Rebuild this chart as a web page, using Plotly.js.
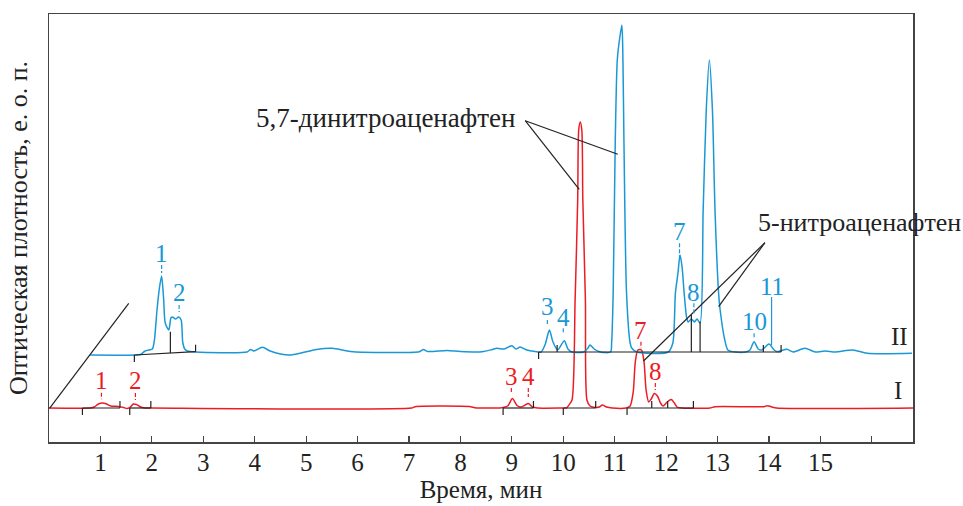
<!DOCTYPE html>
<html><head><meta charset="utf-8">
<script src="https://cdn.plot.ly/plotly-3.0.1.min.js"></script>
<style>html,body{margin:0;padding:0;background:#fff}#chart{width:963px;height:506px}</style>
</head><body><div id="chart"></div>
<script>
// ---- Chromatogram I (red) : time (min) / optical density (rel. units)
const timeI = [0, 0.80, 0.88, 0.96, 1.04, 1.12, 1.20, 1.35, 1.45, 1.52, 1.58, 1.64, 1.70, 1.78, 1.87, 2.00,
  7.05, 7.12, 8.20, 8.28, 8.80, 8.92, 9.01, 9.10, 9.18, 9.26, 9.32, 9.40, 9.50,
  10.00, 10.06, 10.11, 10.17, 10.23, 10.28, 10.30, 10.33, 10.36, 10.38, 10.43, 10.46, 10.52, 10.62, 10.70, 10.76, 10.84, 10.95,
  11.22, 11.30, 11.36, 11.40, 11.45, 11.52, 11.57, 11.61, 11.66, 11.71, 11.77, 11.83, 11.89, 11.94, 12.02, 12.10, 12.16, 12.21, 12.31,
  12.85, 12.95, 13.90, 13.97, 14.04, 14.15, 16.80];
const signalI = [34, 34, 35, 38, 39, 38, 36, 35.5, 34.5, 33.5, 35, 38, 37.5, 35, 34, 34,
  34, 35.3, 35.3, 34.3, 34.3, 36, 43.5, 36.5, 35, 37, 38.5, 35, 34,
  34, 34, 37, 42, 142, 242, 312, 320, 312, 242, 142, 42, 36, 34.5, 35, 37, 35, 34,
  34, 36, 50, 80, 92, 92, 80, 52, 40, 43, 48.5, 46, 39, 36, 40, 42.5, 39, 35, 34,
  34, 35.3, 35.3, 36.3, 35.3, 34, 34];

// ---- Chromatogram II (blue), drawn with its offset start as in the figure
const timeII = [0.80, 1.70, 1.78, 1.87, 1.95, 2.01, 2.05, 2.10, 2.15, 2.19, 2.23, 2.26, 2.33, 2.37, 2.40, 2.46, 2.52, 2.57, 2.60, 2.64, 2.69, 2.85,
  3.85, 3.92, 3.98, 4.15, 4.30, 4.50, 4.69, 4.90, 5.20, 5.51, 5.75, 5.92, 7.20, 7.28, 7.36, 7.74, 8.00, 8.42, 8.62, 8.71, 8.85, 9.00, 9.08, 9.16, 9.29, 9.45,
  9.57, 9.65, 9.73, 9.80, 9.89, 10.02, 10.09, 10.17, 10.40, 10.48, 10.52, 10.60, 10.72, 10.92,
  10.94, 10.97, 11.01, 11.05, 11.10, 11.14, 11.16, 11.18, 11.23, 11.30, 11.33, 11.43,
  12.04, 12.13, 12.18, 12.23, 12.27, 12.31, 12.35, 12.40, 12.43, 12.49, 12.55, 12.60, 12.66,
  12.72, 12.78, 12.84, 12.90, 12.95, 13.02, 13.05, 13.14, 13.20, 13.34,
  13.55, 13.63, 13.71, 13.79, 13.86, 14.00, 14.10, 14.16, 14.35, 14.47, 14.70, 14.90, 15.09, 15.29, 15.63, 15.91, 16.78];
const signalII = [87, 87, 87.5, 91, 92, 93, 102, 132, 155, 166, 142, 119, 112, 124, 125, 123, 125, 122, 100, 93, 91, 90,
  90, 92.5, 91, 94.7, 91, 88, 87, 89, 92.5, 93.7, 91.5, 90.3, 90.3, 92.5, 90.5, 91.5, 90.5, 90.3, 92.5, 93.7, 93, 96.3, 93, 95, 92, 90.5,
  90, 98, 112, 100, 92, 101.3, 93, 90, 90, 94, 97, 93, 90, 90,
  99, 149, 299, 382, 405, 417, 382, 299, 149, 99, 94, 90,
  90, 99, 149, 169, 187, 175, 149, 124, 120, 123, 120, 123, 119,
  232, 332, 382, 332, 232, 149, 132, 102, 92, 90,
  90, 92, 100.3, 93, 92, 98, 92, 90.3, 92.7, 90, 93.7, 90, 91, 90, 92, 88.7, 88.7];

// ---- peak numbers
const peakNamesI = ['1', '2', '3', '4', '7', '8'];
const peakTimeI = [1.02, 1.68, 8.99, 9.32, 11.51, 11.79];
const peakTextYI = [61.5, 61.5, 66, 66, 112, 70.3];
const peakDashTopI = [49.3, 49, 54, 54, 100.3, 59];
const peakDashBotI = [42.7, 42, 49, 45, 93.7, 52];

const peakNamesII = ['1', '2', '3', '4', '7', '8', '10', '11'];
const peakTimeII = [2.19, 2.53, 9.69, 10.00, 12.26, 12.54, 13.71, 14.05];
const peakTextYII = [189, 150, 135.3, 125, 210.3, 149.5, 121, 155.3];
const peakDashTopII = [177, 137, 122, 113.7, 198.7, 138.7, 108.7, 145];
const peakDashBotII = [169, 130, 117, 108.7, 183.7, 128.7, 103.7, 97];

// ---- integration markers
const intStartI = [0.65, 1.57, 8.83, 10.00, 11.24];
const intEndI = [1.38, 1.98, 9.42, 10.63, 12.53];
const intBaseI = 34;
const intSplitI = [11.72, 12.03];

const intStartII = [1.66, 9.52];
const intEndII = [2.85, 14.235];
const intBaseStartII = [87, 90];
const intBaseEndII = [90.3, 90];
const intSplitII = [9.88, 13.89];
const dropTimeII = [2.36, 12.49, 12.66];
const dropTopII = [110.3, 127, 120.3];

// ---- compound callouts
const dinitroText = '5,7-динитроаценафтен';
const dinitroAnchor = [6.55, 324];
const dinitroApex = [9.26, 321.3];
const dinitroTargets = [[11.06, 287.7], [10.31, 252.7]];
const nitroText = '5-нитроаценафтен';
const nitroAnchor = [15.75, 220];
const nitroApex = [13.92, 199.3];
const nitroTargets = [[11.56, 81], [13.02, 135.3]];
const offsetLine = [[0.01, 33.7], [1.55, 138.7]];

const xTicks = [1,2,3,4,5,6,7,8,9,10,11,12,13,14,15,16];
const xTickText = ['1','2','3','4','5','6','7','8','9','10','11','12','13','14','15',''];

const RED = '#ec1c24', BLUE = '#1a98d6', INK = '#222';
const FONT = '"Liberation Serif", "Times New Roman", serif';
const TL = 7;

function baseAt(t, t0, t1, b0, b1) { return b0 + (b1 - b0) * (t - t0) / (t1 - t0); }

const mx = [], my = [];
function seg(x0, y0, x1, y1) { mx.push(x0, x1, null); my.push(y0, y1, null); }
intStartI.forEach((s, i) => {
  const e = intEndI[i];
  seg(s, intBaseI, e, intBaseI);
  seg(s, intBaseI, s, intBaseI - TL);
  seg(e, intBaseI, e, intBaseI + TL);
});
intSplitI.forEach(t => seg(t, intBaseI, t, intBaseI + TL));
intStartII.forEach((s, i) => {
  const e = intEndII[i], b0 = intBaseStartII[i], b1 = intBaseEndII[i];
  seg(s, b0, e, b1);
  seg(s, b0, s, b0 - TL);
  seg(e, b1, e, b1 + TL);
  intSplitII.forEach(t => { if (t > s && t < e) { const b = baseAt(t, s, e, b0, b1); seg(t, b, t, b + TL); } });
  dropTimeII.forEach((t, j) => { if (t > s && t < e) { const b = baseAt(t, s, e, b0, b1); seg(t, b, t, dropTopII[j]); } });
});
// callout leader lines
dinitroTargets.forEach(p => seg(dinitroApex[0], dinitroApex[1], p[0], p[1]));
nitroTargets.forEach(p => seg(nitroApex[0], nitroApex[1], p[0], p[1]));
seg(offsetLine[0][0], offsetLine[0][1], offsetLine[1][0], offsetLine[1][1]);

function dashTrace(times, tops, bots, color, solidIdx) {
  const x = [], y = [], xs = [], ys = [];
  times.forEach((t, i) => {
    if (solidIdx && solidIdx.includes(i)) { xs.push(t, t, null); ys.push(tops[i], bots[i], null); }
    else { x.push(t, t, null); y.push(tops[i], bots[i], null); }
  });
  const out = [{ x, y, mode: 'lines', line: { color, width: 1.2, dash: '4px,2px' }, hoverinfo: 'skip' }];
  if (xs.length) out.push({ x: xs, y: ys, mode: 'lines', line: { color, width: 1.2 }, hoverinfo: 'skip' });
  return out;
}

const traces = [
  { x: timeI, y: signalI, mode: 'lines', name: 'I', line: { color: RED, width: 1.5, shape: 'spline', smoothing: 0.7 } },
  { x: timeII, y: signalII, mode: 'lines', name: 'II', line: { color: BLUE, width: 1.5, shape: 'spline', smoothing: 0.7 } },
  { x: mx, y: my, mode: 'lines', line: { color: INK, width: 1.2 }, hoverinfo: 'skip' },
  ...dashTrace(peakTimeI, peakDashTopI, peakDashBotI, RED),
  ...dashTrace(peakTimeII, peakDashTopII, peakDashBotII, BLUE, [7])
];

const ann = [];
peakNamesI.forEach((n, i) => ann.push({ x: peakTimeI[i], y: peakTextYI[i], text: n, showarrow: false, xanchor: 'center', yanchor: 'middle', font: { family: FONT, size: 25, color: RED } }));
peakNamesII.forEach((n, i) => ann.push({ x: peakTimeII[i], y: peakTextYII[i], text: n, showarrow: false, xanchor: 'center', yanchor: 'middle', font: { family: FONT, size: 25, color: BLUE } }));
ann.push({ x: dinitroAnchor[0], y: dinitroAnchor[1], text: dinitroText, showarrow: false, xanchor: 'center', yanchor: 'middle', font: { family: FONT, size: 27, color: INK } });
ann.push({ x: nitroAnchor[0], y: nitroAnchor[1], text: nitroText, showarrow: false, xanchor: 'center', yanchor: 'middle', font: { family: FONT, size: 26, color: INK } });
ann.push({ x: 16.53, y: 106, text: 'II', showarrow: false, xanchor: 'center', yanchor: 'middle', font: { family: FONT, size: 25, color: INK } });
ann.push({ x: 16.51, y: 52, text: 'I', showarrow: false, xanchor: 'center', yanchor: 'middle', font: { family: FONT, size: 25, color: INK } });

const layout = {
  width: 963, height: 506,
  margin: { l: 49, r: 50, t: 14, b: 64 },
  paper_bgcolor: '#fff', plot_bgcolor: '#fff',
  showlegend: false,
  font: { family: FONT, size: 24, color: INK },
  xaxis: {
    range: [0, 16.8], showgrid: false, zeroline: false,
    showline: true, linecolor: '#444', linewidth: 1.5, mirror: true,
    ticks: 'inside', ticklen: 6, tickwidth: 1.2, tickcolor: '#444',
    tickmode: 'array', tickvals: xTicks, ticktext: xTickText,
    tickfont: { family: FONT, size: 25, color: INK },
    ticklabelstandoff: -3,
    title: { text: 'Время, мин', font: { family: FONT, size: 25, color: INK }, standoff: 6 }
  },
  yaxis: {
    range: [0, 428], showgrid: false, zeroline: false,
    showline: true, linecolor: '#444', linewidth: 1.5, mirror: true,
    showticklabels: false, ticks: '',
    title: { text: 'Оптическая плотность, е. о. п.', font: { family: FONT, size: 26, color: INK }, standoff: 12 }
  },
  annotations: ann
};

Plotly.newPlot('chart', traces, layout, { displayModeBar: false, staticPlot: true });
</script></body></html>
